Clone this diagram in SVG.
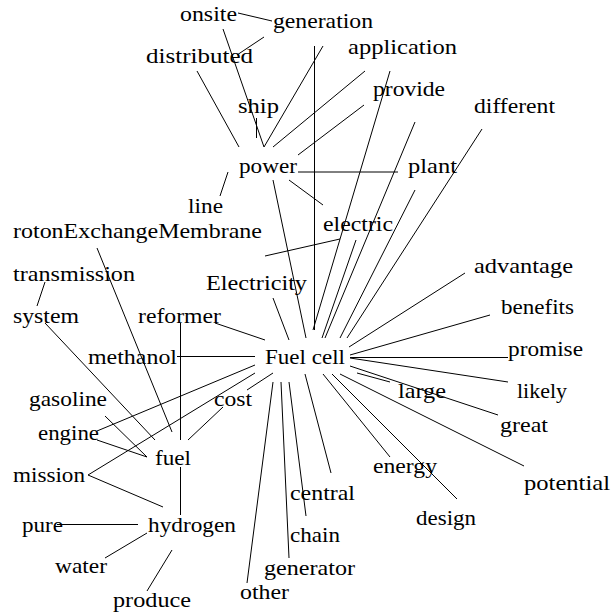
<svg xmlns="http://www.w3.org/2000/svg" width="611" height="614" viewBox="0 0 611 614">
  <style>
    text { font-family: "Liberation Serif", "Times New Roman", serif; font-size: 22px; fill: #000; }
    .edges line { stroke: #000; stroke-width: 1; fill: none; }
    .edges line.soft { stroke: #000; }
  </style>
  <rect width="611" height="614" fill="#fff"/>

  <!-- connectors -->
  <g id="edges" class="edges">
    <line x1="238" y1="13" x2="272" y2="21"/>
    <line x1="264" y1="37" x2="237" y2="55"/>
    <line x1="197" y1="71" x2="239" y2="147"/>
    <line x1="223" y1="29" x2="264" y2="147"/>
    <line x1="323" y1="46" x2="264" y2="147"/>
    <line x1="256.5" y1="118" x2="256.5" y2="138"/>
    <line x1="365" y1="71" x2="273" y2="147"/>
    <line x1="364" y1="105" x2="298" y2="155"/>
    <line x1="314.5" y1="46" x2="314.5" y2="330"/>
    <line x1="390" y1="71" x2="313" y2="330"/>
    <line x1="415" y1="122" x2="325" y2="338"/>
    <line x1="415" y1="190" x2="340" y2="338"/>
    <line x1="482" y1="129" x2="347" y2="338"/>
    <line class="soft" x1="298" y1="172" x2="398" y2="172"/>
    <line x1="228" y1="172" x2="220" y2="196"/>
    <line x1="289" y1="180" x2="323" y2="205"/>
    <line x1="273" y1="180" x2="306" y2="338"/>
    <line x1="340" y1="239" x2="265" y2="256"/>
    <line x1="356" y1="240" x2="322" y2="338"/>
    <line x1="273" y1="298" x2="289" y2="340"/>
    <line x1="45" y1="282" x2="37" y2="306"/>
    <line x1="45" y1="323" x2="155" y2="440"/>
    <line x1="97" y1="248" x2="172" y2="432"/>
    <line x1="215" y1="323" x2="265" y2="340"/>
    <line x1="180.5" y1="323" x2="180.5" y2="440"/>
    <line x1="177" y1="356.5" x2="255" y2="356.5"/>
    <line x1="349" y1="347" x2="465" y2="273"/>
    <line x1="350" y1="355" x2="490" y2="315"/>
    <line x1="350" y1="357.5" x2="508" y2="357.5"/>
    <line x1="350" y1="358" x2="508" y2="382"/>
    <line x1="350" y1="366" x2="498" y2="415"/>
    <line x1="357" y1="373" x2="390" y2="382"/>
    <line x1="340" y1="374" x2="524" y2="466"/>
    <line x1="332" y1="374" x2="457" y2="499"/>
    <line x1="323" y1="374" x2="390" y2="457"/>
    <line x1="305" y1="374" x2="331" y2="473"/>
    <line x1="289" y1="382" x2="306" y2="516"/>
    <line x1="281" y1="382" x2="289" y2="558"/>
    <line x1="273" y1="382" x2="247" y2="583"/>
    <line x1="247" y1="390" x2="273" y2="373"/>
    <line x1="223" y1="407" x2="188" y2="440"/>
    <line x1="97" y1="431" x2="255" y2="365"/>
    <line x1="88" y1="475" x2="255" y2="373"/>
    <line x1="105" y1="416" x2="147" y2="457"/>
    <line x1="97" y1="440" x2="147" y2="457"/>
    <line x1="88" y1="475" x2="163" y2="507"/>
    <line x1="180.5" y1="467" x2="180.5" y2="515"/>
    <line x1="57" y1="524.5" x2="138" y2="524.5"/>
    <line x1="105" y1="558" x2="147" y2="533"/>
    <line x1="147" y1="591" x2="172" y2="550"/>
  </g>

  <!-- word nodes -->
  <g id="n-onsite"><text x="180" y="21" textLength="57" lengthAdjust="spacingAndGlyphs">onsite</text></g>
  <g id="n-generation"><text x="273" y="28" textLength="100" lengthAdjust="spacingAndGlyphs">generation</text></g>
  <g id="n-distributed"><text x="146" y="63" textLength="107" lengthAdjust="spacingAndGlyphs">distributed</text></g>
  <g id="n-application"><text x="348" y="54" textLength="109" lengthAdjust="spacingAndGlyphs">application</text></g>
  <g id="n-provide"><text x="373" y="96" textLength="72" lengthAdjust="spacingAndGlyphs">provide</text></g>
  <g id="n-ship"><text x="238" y="113" textLength="41" lengthAdjust="spacingAndGlyphs">ship</text></g>
  <g id="n-different"><text x="474" y="113" textLength="81" lengthAdjust="spacingAndGlyphs">different</text></g>
  <g id="n-power"><text x="239" y="173" textLength="58" lengthAdjust="spacingAndGlyphs">power</text></g>
  <g id="n-plant"><text x="408" y="173" textLength="49" lengthAdjust="spacingAndGlyphs">plant</text></g>
  <g id="n-line"><text x="188" y="213" textLength="35" lengthAdjust="spacingAndGlyphs">line</text></g>
  <g id="n-electric"><text x="323" y="231" textLength="70" lengthAdjust="spacingAndGlyphs">electric</text></g>
  <g id="n-pem"><text x="13" y="238" textLength="249" lengthAdjust="spacingAndGlyphs">rotonExchangeMembrane</text></g>
  <g id="n-transmission"><text x="13" y="281" textLength="122" lengthAdjust="spacingAndGlyphs">transmission</text></g>
  <g id="n-Electricity"><text x="206" y="290" textLength="101" lengthAdjust="spacingAndGlyphs">Electricity</text></g>
  <g id="n-advantage"><text x="474" y="273" textLength="99" lengthAdjust="spacingAndGlyphs">advantage</text></g>
  <g id="n-system"><text x="13" y="323" textLength="66" lengthAdjust="spacingAndGlyphs">system</text></g>
  <g id="n-reformer"><text x="138" y="323" textLength="83" lengthAdjust="spacingAndGlyphs">reformer</text></g>
  <g id="n-benefits"><text x="501" y="314" textLength="73" lengthAdjust="spacingAndGlyphs">benefits</text></g>
  <g id="n-methanol"><text x="88" y="364" textLength="89" lengthAdjust="spacingAndGlyphs">methanol</text></g>
  <g id="n-fuelcell"><text x="265" y="364" textLength="80" lengthAdjust="spacingAndGlyphs">Fuel cell</text></g>
  <g id="n-promise"><text x="508" y="356" textLength="75" lengthAdjust="spacingAndGlyphs">promise</text></g>
  <g id="n-large"><text x="398" y="398" textLength="48" lengthAdjust="spacingAndGlyphs">large</text></g>
  <g id="n-likely"><text x="517" y="398" textLength="50" lengthAdjust="spacingAndGlyphs">likely</text></g>
  <g id="n-gasoline"><text x="29" y="406" textLength="78" lengthAdjust="spacingAndGlyphs">gasoline</text></g>
  <g id="n-cost"><text x="214" y="406" textLength="38" lengthAdjust="spacingAndGlyphs">cost</text></g>
  <g id="n-engine"><text x="38" y="440" textLength="61" lengthAdjust="spacingAndGlyphs">engine</text></g>
  <g id="n-great"><text x="500" y="432" textLength="48" lengthAdjust="spacingAndGlyphs">great</text></g>
  <g id="n-fuel"><text x="155" y="465" textLength="36" lengthAdjust="spacingAndGlyphs">fuel</text></g>
  <g id="n-energy"><text x="373" y="473" textLength="64" lengthAdjust="spacingAndGlyphs">energy</text></g>
  <g id="n-mission"><text x="13" y="482" textLength="72" lengthAdjust="spacingAndGlyphs">mission</text></g>
  <g id="n-potential"><text x="524" y="490" textLength="86" lengthAdjust="spacingAndGlyphs">potential</text></g>
  <g id="n-central"><text x="290" y="500" textLength="65" lengthAdjust="spacingAndGlyphs">central</text></g>
  <g id="n-design"><text x="416" y="525" textLength="60" lengthAdjust="spacingAndGlyphs">design</text></g>
  <g id="n-pure"><text x="22" y="532" textLength="41" lengthAdjust="spacingAndGlyphs">pure</text></g>
  <g id="n-hydrogen"><text x="148" y="532" textLength="88" lengthAdjust="spacingAndGlyphs">hydrogen</text></g>
  <g id="n-chain"><text x="290" y="542" textLength="50" lengthAdjust="spacingAndGlyphs">chain</text></g>
  <g id="n-water"><text x="55" y="573" textLength="52" lengthAdjust="spacingAndGlyphs">water</text></g>
  <g id="n-generator"><text x="264" y="575" textLength="91" lengthAdjust="spacingAndGlyphs">generator</text></g>
  <g id="n-other"><text x="240" y="599" textLength="49" lengthAdjust="spacingAndGlyphs">other</text></g>
  <g id="n-produce"><text x="113" y="607" textLength="78" lengthAdjust="spacingAndGlyphs">produce</text></g>
</svg>
